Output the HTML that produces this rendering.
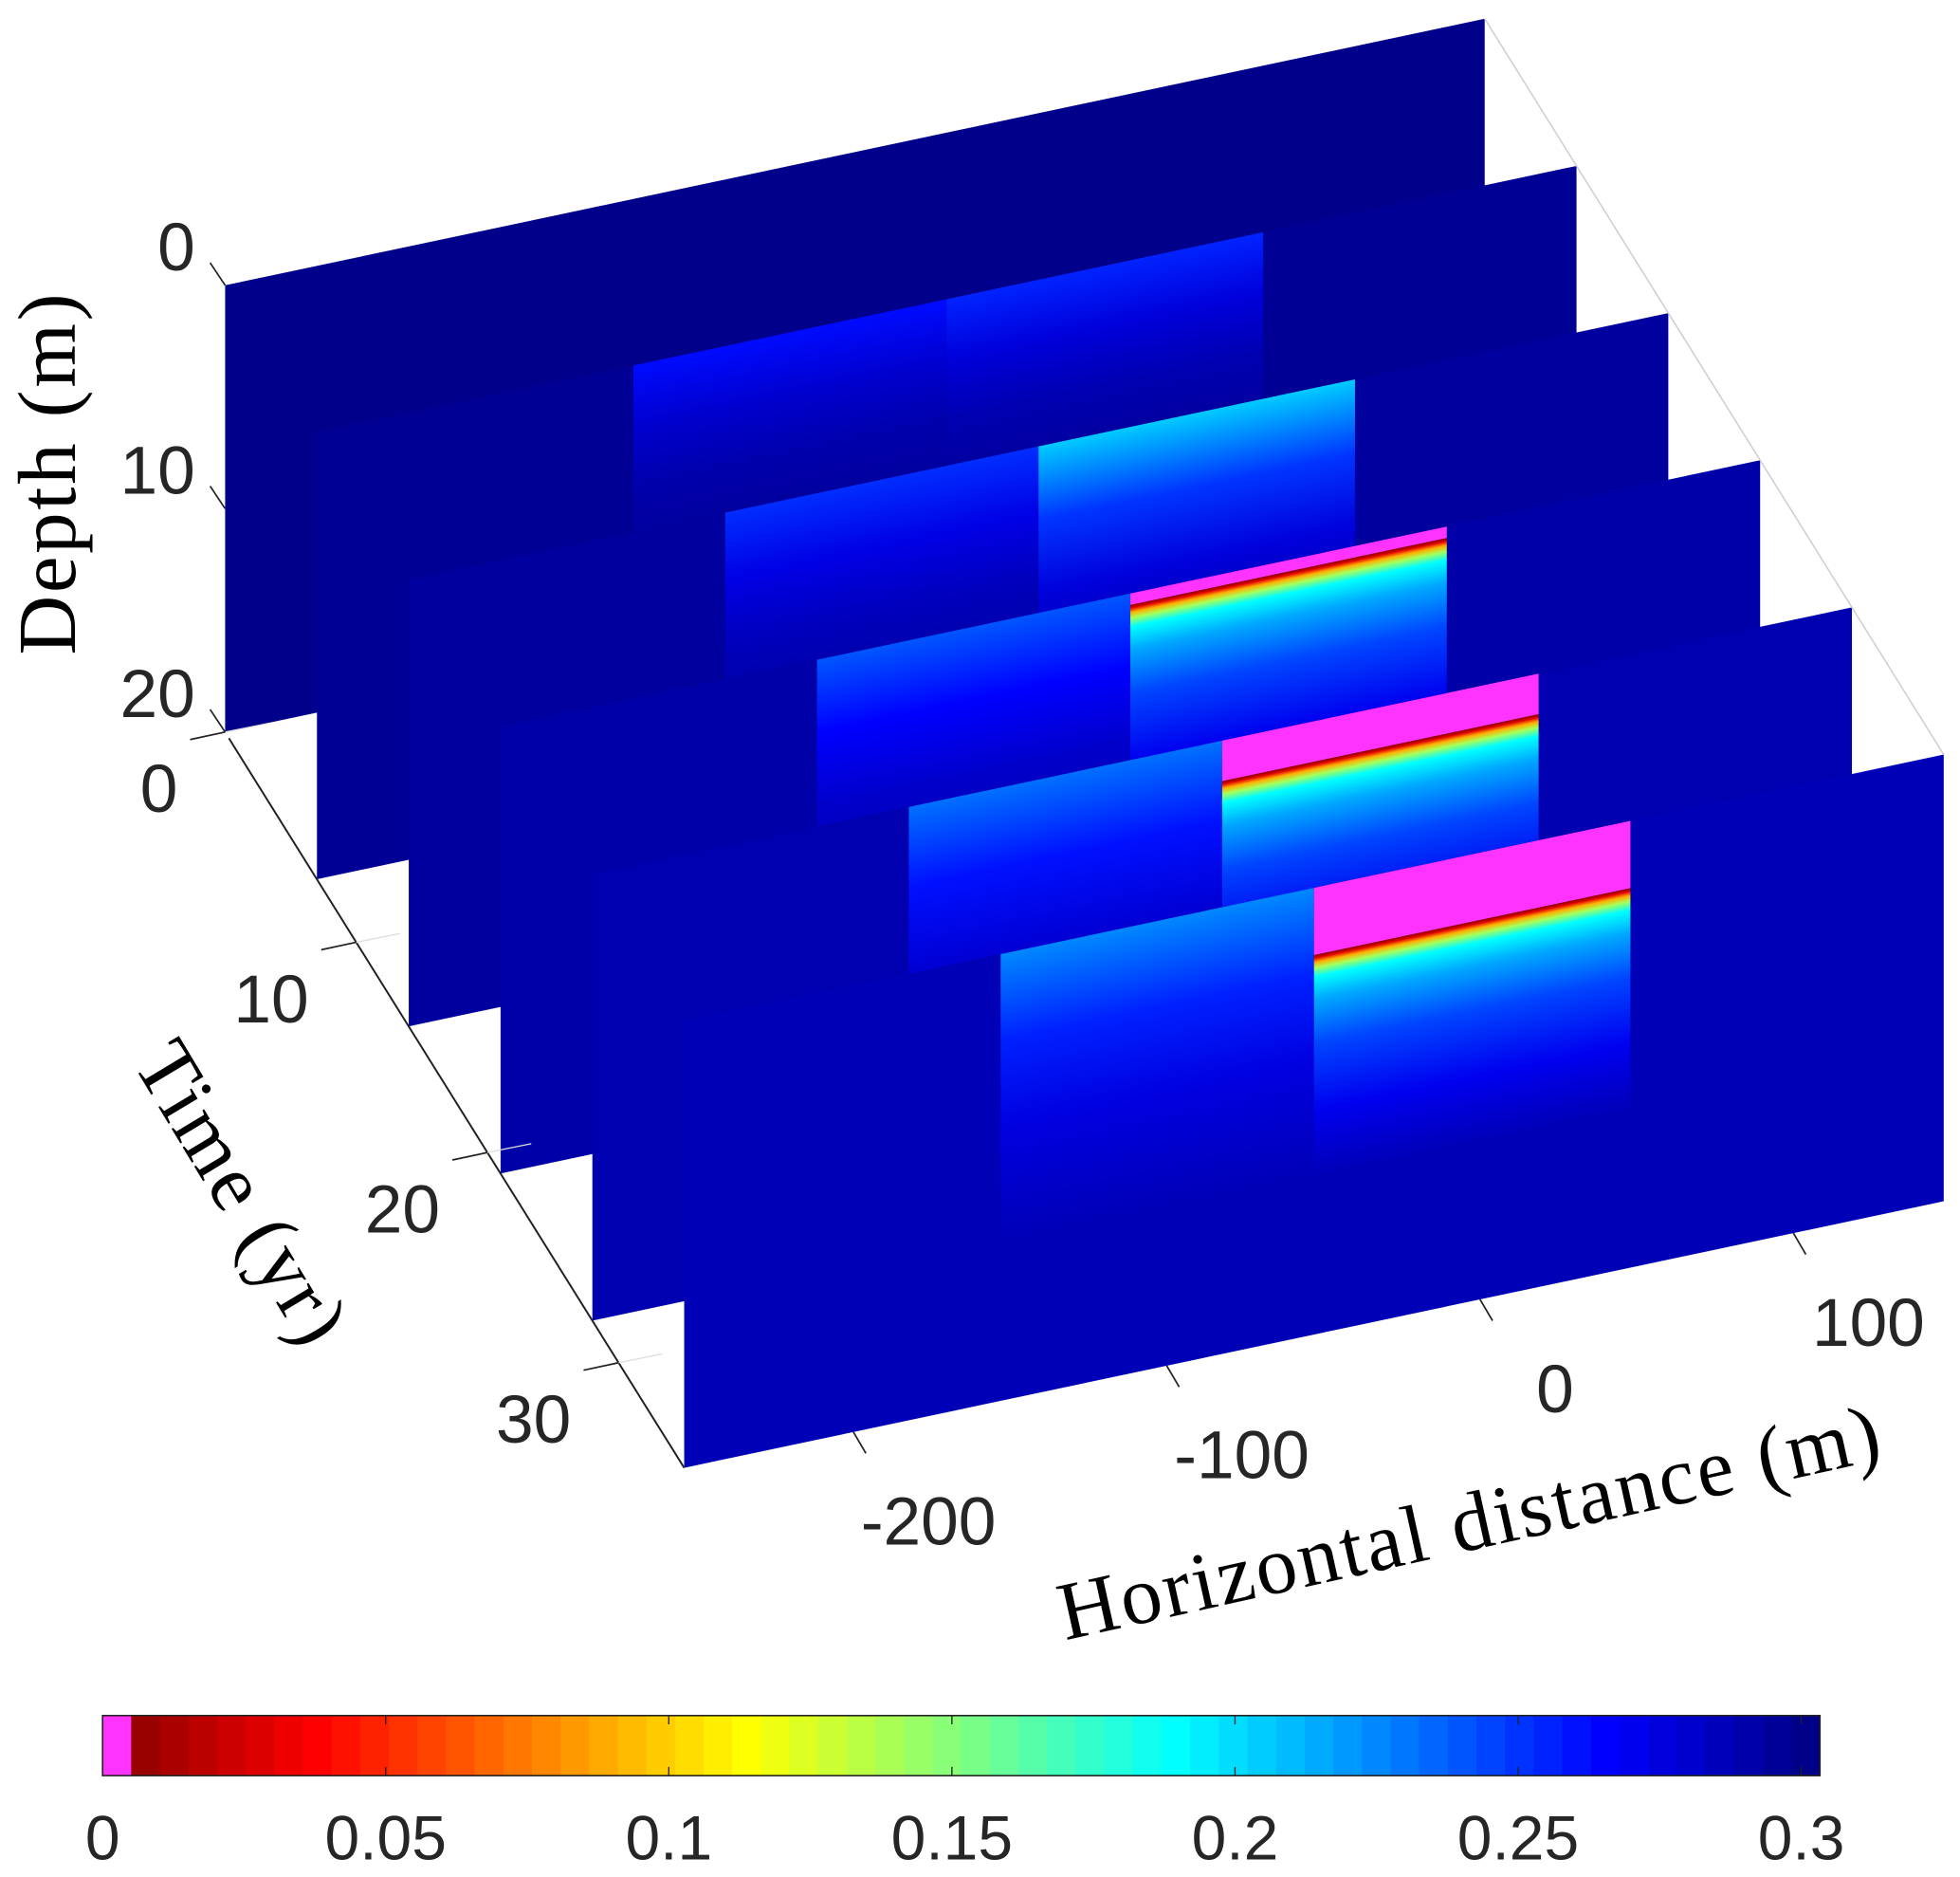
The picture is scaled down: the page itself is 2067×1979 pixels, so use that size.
<!DOCTYPE html>
<html><head><meta charset="utf-8"><style>
html,body{margin:0;padding:0;background:#fff;}
svg{display:block;}
.tick{font-family:"Liberation Sans",sans-serif;font-size:54px;fill:#262626;}
.ctick{font-family:"Liberation Sans",sans-serif;font-size:50px;fill:#262626;}
.lab{font-family:"Liberation Serif",serif;font-size:66px;fill:#000;letter-spacing:2px;}
</style></head><body>
<svg id="chart" width="2067" height="1979" viewBox="0 0 1567 1500" preserveAspectRatio="none" xmlns="http://www.w3.org/2000/svg">
<defs id="defs"></defs>
<g id="slices"></g>
<g id="axes"></g>
<g id="cbar"></g>
</svg>
<script>
// ---- data ----
const sliceTimes = [0, 7, 14, 21, 28, 35];
const xTicks = [-200, -100, 0, 100];
const depthTicks = [0, 10, 20];
const timeTicks = [0, 10, 20, 30];
const cbTicks = [0, 0.05, 0.1, 0.15, 0.2, 0.25, 0.3];
const cbTickLabels = ["0", "0.05", "0.1", "0.15", "0.2", "0.25", "0.3"];
// background value of each slice
const bgValue = [0.3, 0.297, 0.294, 0.291, 0.289, 0.287];
// left plume (-153..-53 m) top value and fade depth
const leftTop = [0.3, 0.262, 0.252, 0.24, 0.232, 0.225];
const leftFade = [0, 9, 10, 11, 12, 13];
// right plume (-53..48 m) profile
const rightTop = [0.3, 0.255, 0.205, 0.0, 0.0, 0.0];
const rightFade = [0, 9, 11, 10.5, 11.8, 13];
const dryDepth = [0, 0, 0, 0.5, 1.8, 3.0];
const plumeLeftX = -153, plumeMidX = -53, plumeRightX = 48;

// ---- geometry ----
const X0 = -254, X1 = 148, D1 = 20, T1 = 35;
const O = [180, 228], XV = [1007, -213], DV = [0, 357], TV = [367, 588];
function P(x, d, t){ const fx=(x-X0)/(X1-X0), fd=d/D1, ft=t/T1;
  return [O[0]+fx*XV[0]+fd*DV[0]+ft*TV[0], O[1]+fx*XV[1]+fd*DV[1]+ft*TV[1]]; }
function jet(v){ if(v<0.002) return "rgb(255,51,255)";
  const u=Math.max(0,Math.min(1,1-v/0.3033)); const c=q=>Math.round(255*Math.max(0,Math.min(1,1.5-Math.abs(4*u-q))));
  return `rgb(${c(3)},${c(2)},${c(1)})`; }
const NS="http://www.w3.org/2000/svg";
function el(tag, attrs, parent){ const e=document.createElementNS(NS,tag); for(const k in attrs) e.setAttribute(k,attrs[k]); parent.appendChild(e); return e; }
const defs=document.getElementById('defs'), gS=document.getElementById('slices'), gA=document.getElementById('axes'), gC=document.getElementById('cbar');

sliceTimes.forEach((t,i)=>{
  const g=el('g',{},gS);
  
  
  const a=(XV[0])/(X1-X0), b=XV[1]/(X1-X0), dd=DV[1]/D1;
  const o=P(X0,0,t);
  const inner=el('g',{transform:`matrix(${a},${b},0,${dd},${o[0]-X0*a},${o[1]-X0*b})`},g);
  const bg=el('rect',{x:X0,y:0,width:X1-X0,height:D1,fill:jet(bgValue[i])},inner);
  
  
  if(leftFade[i]>0){
    const id='gl'+i; const lg=el('linearGradient',{id,x1:0,y1:0,x2:0,y2:1},defs);
    const L=leftTop[i], B=bgValue[i];
    [[0,L],[0.3,L+(B-L)*0.5],[0.6,L+(B-L)*0.8],[1,B]].forEach(s=>el('stop',{offset:s[0],'stop-color':jet(s[1])},lg));
    const r=el('rect',{x:plumeLeftX,y:0,width:plumeMidX-plumeLeftX,height:leftFade[i],fill:`url(#${id})`},inner);
    
    
  }
  if(rightFade[i]>0){
    const id='gr'+i; const lg=el('linearGradient',{id,x1:0,y1:0,x2:0,y2:1},defs);
    const dm=dryDepth[i], H=rightFade[i], B=bgValue[i];
    let stops=[];
    if(dm>0){ stops=[[0,-1],[dm,-1],[dm+0.02,0.003],[dm+0.15,0.03],[dm+0.35,0.09],[dm+0.6,0.14],[dm+1.0,0.19],[dm+2.0,0.215],[dm+4,0.245],[dm+7,0.27],[H,B]]; }
    else { const T=rightTop[i]; stops=[[0,T],[H*0.3,T+(B-T)*0.5],[H*0.6,T+(B-T)*0.8],[H,B]]; }
    stops.forEach(s=>el('stop',{offset:Math.min(1,s[0]/H),'stop-color':jet(s[1])},lg));
    const r=el('rect',{x:plumeMidX,y:0,width:plumeRightX-plumeMidX,height:H,fill:`url(#${id})`},inner);
    
    
  }
});

// box lines (light gray)
const tr0=P(X1,0,0), tr1=P(X1,0,T1);
el('line',{x1:tr0[0],y1:tr0[1],x2:tr1[0],y2:tr1[1],stroke:'#d0d0d0','stroke-width':1.2},gA);
// axes
const ax1=P(X0,D1,0), ax2=P(X0,D1,T1);
const tl=el('line',{x1:ax1[0]+3,y1:ax1[1]+5,x2:ax2[0],y2:ax2[1],stroke:'#222','stroke-width':1.5},gA);


timeTicks.forEach(tt=>{ const p=P(X0,D1,tt);
  el('line',{x1:p[0],y1:p[1],x2:p[0]-28,y2:p[1]+6,stroke:'#222','stroke-width':1.3},gA);
  el('line',{x1:p[0],y1:p[1],x2:p[0]+35,y2:p[1]-7,stroke:'#ddd','stroke-width':1},gA);
  const tx=el('text',{class:'tick',x:p[0]-38,y:p[1]+64,'text-anchor':'end'},gA); tx.textContent=tt;
  
  
});
depthTicks.forEach(d=>{ const p=P(X0,d,0);
  el('line',{x1:p[0],y1:p[1],x2:p[0]-12,y2:p[1]-18,stroke:'#222','stroke-width':1.3},gA);
  const tx=el('text',{class:'tick',x:p[0]-24,y:p[1]-12,'text-anchor':'end'},gA); tx.textContent=d;
  
  
});
xTicks.forEach(x=>{ const p=P(x,D1,T1);
  el('line',{x1:p[0],y1:p[1],x2:p[0]+10,y2:p[1]+17,stroke:'#222','stroke-width':1.3},gA);
  const tx=el('text',{class:'tick',x:p[0]+60,y:p[1]+90,'text-anchor':'middle'},gA); tx.textContent=x;
  
  
});
function label(txt,x,y,rot,name){ const t=el('text',{class:'lab',x,y,'text-anchor':'middle',transform:`rotate(${rot} ${x} ${y})`},gA); t.textContent=txt;
  
   }
label('Depth (m)',60,378,-90,'y-axis-title');
label('Time (yr)',175,965,59,'time-axis-title');
label('Horizontal distance (m)',1180,1238,-12.5,'x-axis-title');

// colorbar
const cbX0=82, cbX1=1455, cbY0=1371, cbY1=1419, vMax=0.3033;
const cx=v=>cbX0+(v/vMax)*(cbX1-cbX0);
const N=60;
for(let k=0;k<N;k++){ const v0=k*vMax/N, v1=(k+1)*vMax/N;
  const r=el('rect',{x:cx(v0),y:cbY0,width:cx(v1)-cx(v0)+0.6,height:cbY1-cbY0,fill:jet(k===0?0:(v0+v1)/2)},gC);
  
  
}
el('rect',{x:cbX0,y:cbY0,width:cbX1-cbX0,height:cbY1-cbY0,fill:'none',stroke:'#222','stroke-width':1.2},gC);
cbTicks.forEach((v,i)=>{ const x=cx(v);
  el('line',{x1:x,y1:cbY0,x2:x,y2:cbY0+7,stroke:'#222','stroke-width':1},gC);
  el('line',{x1:x,y1:cbY1,x2:x,y2:cbY1-7,stroke:'#222','stroke-width':1},gC);
  const t=el('text',{class:'ctick',x,y:1486,'text-anchor':'middle'},gC); t.textContent=cbTickLabels[i];
  
  
});
</script>
</body></html>
